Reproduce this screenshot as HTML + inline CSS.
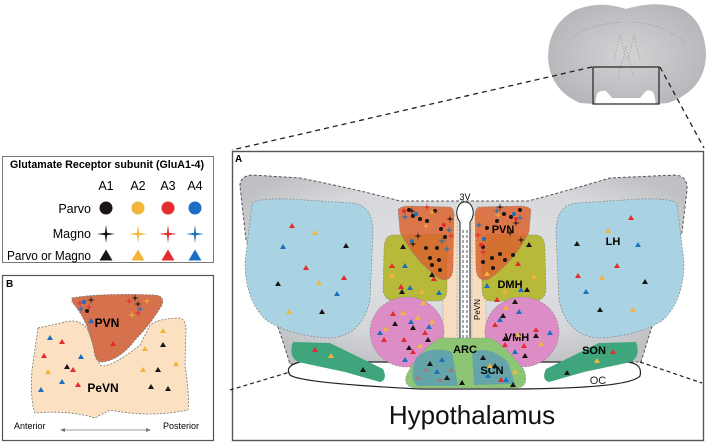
<!DOCTYPE html>
<html><head><meta charset="utf-8"><style>
html,body{margin:0;padding:0;background:#fff;}
svg{display:block;font-family:"Liberation Sans",sans-serif;}
</style></head><body>
<svg width="708" height="443" viewBox="0 0 708 443" xmlns="http://www.w3.org/2000/svg">
<defs>
<path id="t" d="M0,-3 L3,2 L-3,2 Z"/>
<path id="T" d="M0,-6.5 L6.5,4.5 L-6.5,4.5 Z"/>
<path id="p" d="M0,-4 L0.6,-0.6 L4,0 L0.6,0.6 L0,4 L-0.6,0.6 L-4,0 L-0.6,-0.6 Z"/>
<path id="P" d="M0,-9 L1.1,-1.1 L9,0 L1.1,1.1 L0,9 L-1.1,1.1 L-9,0 L-1.1,-1.1 Z"/>
<radialGradient id="g" cx="50%" cy="45%" r="60%"><stop offset="0" stop-color="#e2e3e5"/><stop offset="0.7" stop-color="#d6d7da"/><stop offset="1" stop-color="#bfc0c3"/></radialGradient>
<radialGradient id="br" cx="50%" cy="50%" r="60%"><stop offset="0" stop-color="#d2d3d5"/><stop offset="1" stop-color="#b3b4b7"/></radialGradient>
</defs>

<!-- brain -->
<path d="M626,9 Q600,0 575,10 Q548,25 548,58 Q550,90 580,103 L595,104 L597,94 Q600,90 606,91 L612,98 L640,98 L646,91 Q652,89 654,94 L656,104 L668,103 Q705,90 706,55 Q705,20 680,8 Q655,0 626,9 Z" fill="url(#br)"/>
<path d="M565,45 Q580,25 622,22 M630,22 Q672,25 685,45" fill="none" stroke="#999" stroke-width="0.6" stroke-dasharray="1.5,1.5"/>
<path d="M614,60 L620,35 L626,60 M628,60 L634,35 L640,60 M618,78 L626,46 L634,78" fill="none" stroke="#999" stroke-width="0.6" stroke-dasharray="1.5,1.5"/>
<rect x="593" y="67" width="66" height="37" fill="none" stroke="#222" stroke-width="1.2"/>
<line x1="592" y1="67" x2="232" y2="150" stroke="#222" stroke-width="1.3" stroke-dasharray="5,4"/>
<line x1="660" y1="67" x2="704" y2="148" stroke="#222" stroke-width="1.3" stroke-dasharray="5,4"/>

<!-- legend -->
<rect x="2.5" y="156.5" width="211" height="106" fill="#fff" stroke="#777"/>
<text x="10" y="168" font-size="11" font-weight="bold" textLength="194" lengthAdjust="spacingAndGlyphs">Glutamate Receptor subunit (GluA1-4)</text>
<g font-size="12.5" text-anchor="middle"><text x="106" y="190">A1</text><text x="138" y="190">A2</text><text x="168" y="190">A3</text><text x="195" y="190">A4</text></g>
<g font-size="12.5" text-anchor="end"><text x="91" y="213">Parvo</text><text x="91" y="238">Magno</text><text x="91" y="260" textLength="84" lengthAdjust="spacingAndGlyphs">Parvo or Magno</text></g>
<circle cx="106" cy="208" r="6.5" fill="#1a1414"/><circle cx="138" cy="208" r="6.5" fill="#f4b43a"/><circle cx="168" cy="208" r="6.5" fill="#e42b2e"/><circle cx="195" cy="208" r="6.5" fill="#1a6fc0"/>
<use href="#P" x="106" y="234" fill="#1a1414"/><use href="#P" x="138" y="234" fill="#f4b43a"/><use href="#P" x="168" y="234" fill="#e42b2e"/><use href="#P" x="195" y="234" fill="#1a6fc0"/>
<use href="#T" x="106" y="256" fill="#1a1414"/><use href="#T" x="138" y="256" fill="#f4b43a"/><use href="#T" x="168" y="256" fill="#e42b2e"/><use href="#T" x="195" y="256" fill="#1a6fc0"/>

<!-- panel B -->
<rect x="2.5" y="275.5" width="211" height="165" fill="#fff" stroke="#555" stroke-width="1.2"/>
<text x="6" y="287" font-size="10" font-weight="bold">B</text>
<path d="M38,328 L65,322 Q80,318 88,330 Q95,350 100,365 Q108,370 140,345 L150,325 Q160,318 180,318 Q186,320 186,330 L185,365 Q190,400 188,410 Q150,418 110,410 Q100,415 95,418 Q70,410 35,413 Q30,400 32,370 Z" fill="#fbe0c2" stroke="#777" stroke-width="0.8" stroke-dasharray="2,1.5"/>
<path d="M72,298 Q100,293 155,295 Q165,296 162,305 Q150,325 135,340 Q120,360 102,362 Q95,362 94,350 Q88,320 72,302 Z" fill="#d6714e" stroke="#777" stroke-width="0.8" stroke-dasharray="2,1.5"/>
<g fill="#e42b2e"><use href="#p" x="80" y="303"/><use href="#p" x="89" y="307"/><use href="#p" x="129" y="301"/><use href="#p" x="138" y="313"/><use href="#t" x="62" y="342"/><use href="#t" x="44" y="356"/><use href="#t" x="73" y="370"/><use href="#t" x="78" y="385"/><use href="#t" x="113" y="344"/></g>
<g fill="#1a1414"><use href="#p" x="91" y="300"/><use href="#p" x="135" y="298"/><use href="#p" x="138" y="304"/><circle cx="87" cy="311" r="2"/><use href="#t" x="67" y="367"/><use href="#t" x="163" y="345"/><use href="#t" x="158" y="370"/><use href="#t" x="151" y="387"/><use href="#t" x="168" y="389"/></g>
<g fill="#1a6fc0"><circle cx="84" cy="302" r="2.2"/><use href="#p" x="81" y="309"/><use href="#p" x="140" y="309"/><use href="#t" x="91" y="321"/><use href="#t" x="50" y="338"/><use href="#t" x="81" y="357"/><use href="#t" x="62" y="382"/><use href="#t" x="41" y="390"/></g>
<g fill="#f4b43a"><use href="#p" x="147" y="301"/><use href="#p" x="132" y="315"/><use href="#t" x="163" y="331"/><use href="#t" x="145" y="349"/><use href="#t" x="48" y="372"/><use href="#t" x="143" y="370"/><use href="#t" x="176" y="364"/></g>
<text x="107" y="327" font-size="12" font-weight="bold" text-anchor="middle">PVN</text>
<text x="103" y="392" font-size="12" font-weight="bold" text-anchor="middle">PeVN</text>
<text x="14" y="429" font-size="9">Anterior</text>
<text x="163" y="429" font-size="9">Posterior</text>
<line x1="63" y1="430" x2="148" y2="430" stroke="#777" stroke-width="0.8"/>
<path d="M60,430 L65,428 L65,432 Z M151,430 L146,428 L146,432 Z" fill="#777"/>

<!-- panel A -->
<rect x="232.5" y="151.5" width="471" height="289" fill="#fff" stroke="#555" stroke-width="1.4"/>
<text x="235" y="162" font-size="10" font-weight="bold">A</text>
<path d="M240,186 Q240,176 252,175 L300,178 Q360,190 400,201 L528,201 Q570,190 610,178 L675,175 Q688,176 687,190 L682,232 Q660,300 641,362 L290,364 Q270,300 246,240 Z" fill="url(#g)" stroke="#555" stroke-width="1" stroke-dasharray="3,2"/>
<path d="M230,390 L290,372 M640,362 L702,383" stroke="#222" stroke-width="1.2" stroke-dasharray="4,3"/>
<path d="M300,362 Q284,366 290,375 Q300,383 420,389 L520,389 Q630,388 640,376 Q643,363 626,362 Z" fill="#fff" stroke="#222" stroke-width="1.2"/>
<text x="598" y="384" font-size="11" text-anchor="middle" fill="#222">OC</text>

<!-- left side -->
<g id="L">
<path d="M252,204 Q256,198 290,199 L352,203 Q373,205 373,232 L370,300 Q362,336 330,338 Q290,336 266,320 Q245,300 245,262 Z" fill="#a9d3e2" stroke="#888" stroke-width="0.7" stroke-dasharray="2,1.5"/>
<path d="M293,342 L330,343 L383,369 Q388,380 380,382 L345,372 L298,362 Q288,356 293,342 Z" fill="#3fa57c"/>
<rect x="443" y="215" width="14" height="133" fill="#f7dcc0" stroke="#999" stroke-width="0.5" stroke-dasharray="2,1.5"/>
<path d="M392,235 Q384,236 384,250 L383,290 Q384,301 396,301 L440,301 Q447,299 447,290 L447,240 Q446,234 440,234 Z" fill="#b6b93a" stroke="#888" stroke-width="0.6" stroke-dasharray="2,1.5"/>
<ellipse cx="407" cy="332" rx="37" ry="35" fill="#dc8dc6" stroke="#888" stroke-width="0.6" stroke-dasharray="2,1.5"/>
<path d="M398,210 Q400,206 410,206 L450,207 Q454,208 454,216 L453,270 Q451,283 440,279 Q415,262 400,232 Z" fill="#d9642f" fill-opacity="0.85" stroke="#888" stroke-width="0.6" stroke-dasharray="2,1.5"/>
</g>
<use href="#L" transform="translate(929,0) scale(-1,1)"/>

<!-- 3V -->
<path d="M460,347 L460,222 Q456,217 457,210 Q459,202 465,202 Q471,202 473,210 Q474,217 470,222 L470,347" fill="#fff" stroke="#222" stroke-width="1"/>
<path d="M463,230 L463,345 M467,230 L467,345" stroke="#222" stroke-width="0.8" stroke-dasharray="3,2"/>
<text x="465" y="200" font-size="9" text-anchor="middle">3V</text>
<text x="0" y="0" font-size="8" transform="translate(480,320) rotate(-90)">PeVN</text>

<!-- ARC/SCN -->
<path d="M440,338 L490,338 Q505,345 524,370 Q530,388 515,388 L415,388 Q402,386 407,374 Q420,350 440,338 Z" fill="#8cc675" stroke="#888" stroke-width="0.6" stroke-dasharray="2,1.5"/>
<path d="M416,358 Q430,345 452,352 L458,386 L418,386 Q408,380 416,358 Z" fill="#5e9db2" fill-opacity="0.85"/>
<path d="M472,352 Q490,345 508,362 L515,384 L474,385 Z" fill="#5e9db2" fill-opacity="0.85"/>
<text x="465" y="353" font-size="11" font-weight="bold" text-anchor="middle">ARC</text>
<text x="492" y="374" font-size="11" font-weight="bold" text-anchor="middle">SCN</text>

<!-- labels -->
<g font-size="11" font-weight="bold" text-anchor="middle">
<text x="503" y="233">PVN</text><text x="510" y="288">DMH</text><text x="517" y="341">VMH</text><text x="613" y="245">LH</text><text x="594" y="354">SON</text>
</g>

<!-- triangles LH -->
<g fill="#e42b2e"><use href="#t" x="292" y="226"/><use href="#t" x="306" y="268"/><use href="#t" x="344" y="278"/><use href="#t" x="631" y="218"/><use href="#t" x="617" y="266"/><use href="#t" x="578" y="276"/><use href="#t" x="315" y="350"/><use href="#t" x="613" y="352"/></g>
<g fill="#f4b43a"><use href="#t" x="315" y="233"/><use href="#t" x="319" y="283"/><use href="#t" x="289" y="312"/><use href="#t" x="608" y="231"/><use href="#t" x="602" y="278"/><use href="#t" x="633" y="310"/><use href="#t" x="331" y="356"/><use href="#t" x="597" y="361"/></g>
<g fill="#1a6fc0"><use href="#t" x="283" y="247"/><use href="#t" x="337" y="294"/><use href="#t" x="638" y="245"/><use href="#t" x="586" y="292"/></g>
<g fill="#1a1414"><use href="#t" x="346" y="246"/><use href="#t" x="278" y="284"/><use href="#t" x="322" y="312"/><use href="#t" x="577" y="244"/><use href="#t" x="645" y="282"/><use href="#t" x="600" y="310"/><use href="#t" x="363" y="370"/><use href="#t" x="567" y="373"/></g>

<!-- DMH / VMH / ARC triangles -->
<g fill="#e42b2e"><use href="#t" x="392" y="266"/><use href="#t" x="401" y="287"/><use href="#t" x="434" y="279"/><use href="#t" x="393" y="314"/><use href="#t" x="404" y="340"/><use href="#t" x="425" y="333"/><use href="#t" x="384" y="340"/><use href="#t" x="413" y="352"/><use href="#t" x="518" y="264"/><use href="#t" x="497" y="300"/><use href="#t" x="495" y="325"/><use href="#t" x="524" y="346"/><use href="#t" x="536" y="330"/><use href="#t" x="505" y="345"/><use href="#t" x="501" y="380"/></g>
<g fill="#f4b43a"><use href="#t" x="392" y="276"/><use href="#t" x="422" y="292"/><use href="#t" x="423" y="303"/><use href="#t" x="403" y="313"/><use href="#t" x="418" y="318"/><use href="#t" x="386" y="329"/><use href="#t" x="420" y="346"/><use href="#t" x="432" y="322"/><use href="#t" x="487" y="274"/><use href="#t" x="534" y="277"/><use href="#t" x="505" y="292"/><use href="#t" x="506" y="308"/><use href="#t" x="518" y="335"/><use href="#t" x="541" y="344"/><use href="#t" x="490" y="366"/><use href="#t" x="515" y="372"/></g>
<g fill="#1a6fc0"><use href="#t" x="405" y="266"/><use href="#t" x="410" y="288"/><use href="#t" x="439" y="293"/><use href="#t" x="411" y="322"/><use href="#t" x="429" y="327"/><use href="#t" x="380" y="333"/><use href="#t" x="405" y="360"/><use href="#t" x="487" y="286"/><use href="#t" x="521" y="290"/><use href="#t" x="519" y="312"/><use href="#t" x="500" y="320"/><use href="#t" x="550" y="333"/><use href="#t" x="515" y="352"/><use href="#t" x="437" y="372"/><use href="#t" x="442" y="360"/><use href="#t" x="488" y="376"/><use href="#t" x="506" y="380"/></g>
<g fill="#1a1414"><use href="#t" x="403" y="247"/><use href="#t" x="432" y="275"/><use href="#t" x="402" y="292"/><use href="#t" x="395" y="324"/><use href="#t" x="413" y="328"/><use href="#t" x="428" y="340"/><use href="#t" x="409" y="348"/><use href="#t" x="529" y="245"/><use href="#t" x="527" y="290"/><use href="#t" x="515" y="302"/><use href="#t" x="503" y="316"/><use href="#t" x="505" y="339"/><use href="#t" x="536" y="336"/><use href="#t" x="525" y="356"/><use href="#t" x="430" y="364"/><use href="#t" x="447" y="378"/><use href="#t" x="483" y="358"/><use href="#t" x="495" y="366"/><use href="#t" x="513" y="385"/><use href="#t" x="462" y="383"/></g>
<g fill="#9a7f7f"><use href="#t" x="426" y="370"/><use href="#t" x="418" y="378"/><use href="#t" x="440" y="380"/><use href="#t" x="451" y="370"/></g>

<!-- PVN circles & crosses -->
<g fill="#1a1414">
<circle cx="409" cy="210" r="2"/><circle cx="413" cy="216" r="2"/><circle cx="420" cy="219" r="2"/><circle cx="427" cy="221" r="2"/><circle cx="435" cy="211" r="2"/><circle cx="441" cy="229" r="2"/><circle cx="445" cy="237" r="2"/><circle cx="437" cy="248" r="2"/><circle cx="426" cy="248" r="2"/><circle cx="439" cy="260" r="2"/><circle cx="432" cy="265" r="2"/><circle cx="440" cy="270" r="2"/><circle cx="430" cy="258" r="2"/>
<circle cx="520" cy="210" r="2"/><circle cx="511" cy="217" r="2"/><circle cx="504" cy="214" r="2"/><circle cx="497" cy="221" r="2"/><circle cx="487" cy="228" r="2"/><circle cx="483" cy="247" r="2"/><circle cx="492" cy="258" r="2"/><circle cx="500" cy="254" r="2"/><circle cx="505" cy="260" r="2"/><circle cx="493" cy="268" r="2"/><circle cx="483" cy="262" r="2"/><circle cx="513" cy="255" r="2"/>
<use href="#p" x="412" y="211"/><use href="#p" x="418" y="236"/><use href="#p" x="413" y="244"/><use href="#p" x="450" y="219"/><use href="#p" x="516" y="223"/><use href="#p" x="510" y="233"/><use href="#p" x="521" y="240"/><use href="#p" x="500" y="207"/>
</g>
<g fill="#1a6fc0"><circle cx="416" cy="214" r="2"/><circle cx="412" cy="241" r="2"/><circle cx="514" cy="214" r="2"/><circle cx="484" cy="239" r="2"/><use href="#p" x="405" y="217"/><use href="#p" x="442" y="241"/><use href="#p" x="449" y="230"/><use href="#p" x="447" y="249"/><use href="#p" x="497" y="211"/><use href="#p" x="479" y="225"/><use href="#p" x="520" y="218"/></g>
<g fill="#e42b2e"><circle cx="404" cy="211" r="2"/><circle cx="444" cy="225" r="2"/><circle cx="481" cy="245" r="2"/><circle cx="516" cy="219" r="2"/><use href="#p" x="451" y="236"/><use href="#p" x="478" y="235"/><use href="#p" x="483" y="252"/><use href="#p" x="427" y="207"/></g>
<g fill="#f4b43a"><use href="#p" x="432" y="212"/><use href="#p" x="498" y="215"/><use href="#p" x="426" y="226"/></g>

<text x="472" y="424" font-size="26" text-anchor="middle" fill="#111">Hypothalamus</text>
</svg>
</body></html>
